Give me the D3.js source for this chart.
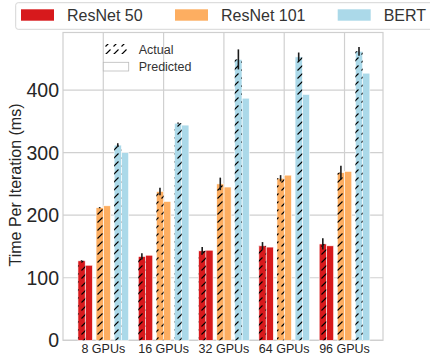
<!DOCTYPE html>
<html>
<head>
<meta charset="utf-8">
<script src="https://cdn.jsdelivr.net/npm/d3@7"></script>
<style>
  body { margin: 0; background: #fff; }
  svg { display: block; font-family: "Liberation Sans", Arial, sans-serif; }
</style>
</head>
<body>
<svg id="chart" width="430" height="358"></svg>
<script>
const gpus = ["8 GPUs", "16 GPUs", "32 GPUs", "64 GPUs", "96 GPUs"];
const models = ["ResNet 50", "ResNet 101", "BERT"];
const colors = ["#d7191c", "#fdae61", "#abd9e9"];

const resnet50Actual = [127, 134, 143, 151, 154];
const resnet50Err = [1, 5, 6, 6, 9];
const resnet50Pred = [120, 136, 144, 149, 151];
const resnet101Actual = [212, 238, 250, 259, 268];
const resnet101Err = [1, 6, 10, 5, 11];
const resnet101Pred = [215, 222, 245, 264, 270];
const bertActual = [312, 347, 449, 453, 462];
const bertErr = [3, 1, 16, 7, 7];
const bertPred = [300, 344, 387, 393, 427];

const yTicks = [0, 100, 200, 300, 400];

const actual = [resnet50Actual, resnet101Actual, bertActual];
const errs = [resnet50Err, resnet101Err, bertErr];
const pred = [resnet50Pred, resnet101Pred, bertPred];
const offsets = [-0.3, 0, 0.3];
const barW = 0.12;

const svg = d3.select("#chart");
const mLeft = 63, mRight = 383, mTop = 32.5, mBottom = 340.3;

const x = d3.scaleLinear().domain([-0.668, 4.638]).range([mLeft, mRight]);
const y = d3.scaleLinear().domain([0, 492]).range([mBottom, mTop]);

const defs = svg.append("defs");
const pat = defs.append("pattern")
  .attr("id", "hatch")
  .attr("patternUnits", "userSpaceOnUse")
  .attr("width", 8).attr("height", 8);
pat.append("path")
  .attr("d", "M1.5,6.5 L6.5,1.5")
  .attr("stroke", "#000")
  .attr("stroke-width", 1.1)
  .attr("fill", "none");

// grid
const grid = svg.append("g");
grid.selectAll(".hg")
  .data(yTicks)
  .enter()
  .append("line")
  .attr("x1", mLeft).attr("x2", mRight)
  .attr("y1", d => y(d)).attr("y2", d => y(d))
  .attr("stroke", "#d0d0d0")
  .attr("stroke-width", 1.2);
grid.selectAll(".vg")
  .data(gpus)
  .enter()
  .append("line")
  .attr("x1", (d, i) => x(i)).attr("x2", (d, i) => x(i))
  .attr("y1", mTop).attr("y2", mBottom)
  .attr("stroke", "#d0d0d0")
  .attr("stroke-width", 1.2);

// frame
svg.append("rect")
  .attr("x", mLeft).attr("y", mTop)
  .attr("width", mRight - mLeft).attr("height", mBottom - mTop)
  .attr("fill", "none")
  .attr("stroke", "#cfcfcf")
  .attr("stroke-width", 1.2);

// bars
models.forEach(function(m, k) {
  const g = svg.append("g");
  const c = colors[k];
  g.selectAll(".pred")
    .data(pred[k])
    .enter()
    .append("rect")
    .attr("x", (d, i) => x(i + offsets[k]))
    .attr("width", x(barW) - x(0))
    .attr("y", d => y(d))
    .attr("height", d => y(0) - y(d))
    .attr("fill", c)
    .attr("stroke", "#fff")
    .attr("stroke-width", 0.6);
  g.selectAll(".act")
    .data(actual[k])
    .enter()
    .append("rect")
    .attr("x", (d, i) => x(i + offsets[k] - barW))
    .attr("width", x(barW) - x(0))
    .attr("y", d => y(d))
    .attr("height", d => y(0) - y(d))
    .attr("fill", c)
    .attr("stroke", "#fff")
    .attr("stroke-width", 0.6);
  g.selectAll(".hatch")
    .data(actual[k])
    .enter()
    .append("rect")
    .attr("x", (d, i) => x(i + offsets[k] - barW))
    .attr("width", x(barW) - x(0))
    .attr("y", d => y(d))
    .attr("height", d => y(0) - y(d))
    .attr("fill", "url(#hatch)");
  g.selectAll(".err")
    .data(actual[k])
    .enter()
    .append("line")
    .attr("x1", (d, i) => x(i + offsets[k] - barW / 2))
    .attr("x2", (d, i) => x(i + offsets[k] - barW / 2))
    .attr("y1", (d, i) => y(d - errs[k][i]))
    .attr("y2", (d, i) => y(d + errs[k][i]))
    .attr("stroke", "#1a1a1a")
    .attr("stroke-width", 1.6);
});

// axes labels
svg.append("g").selectAll("text")
  .data(yTicks)
  .enter()
  .append("text")
  .attr("x", mLeft - 4)
  .attr("y", d => y(d))
  .attr("dy", "0.36em")
  .attr("text-anchor", "end")
  .attr("font-size", 19.5)
  .attr("fill", "#262626")
  .text(d => d);

svg.append("g").selectAll("text")
  .data(gpus)
  .enter()
  .append("text")
  .attr("x", (d, i) => x(i))
  .attr("y", 353)
  .attr("text-anchor", "middle")
  .attr("font-size", 12.5)
  .attr("fill", "#262626")
  .text(d => d);

svg.append("text")
  .attr("transform", "translate(21,185) rotate(-90)")
  .attr("text-anchor", "middle")
  .attr("font-size", 16)
  .attr("fill", "#262626")
  .text("Time Per Iteration (ms)");

// model legend
const leg = svg.append("g");
leg.append("rect")
  .attr("x", 15.7).attr("y", 2.7)
  .attr("width", 440).attr("height", 26.6)
  .attr("rx", 2.5)
  .attr("fill", "#fff")
  .attr("stroke", "#d6d6d6")
  .attr("stroke-width", 1);
const legX = [21, 175, 337.7];
models.forEach(function(m, k) {
  leg.append("rect")
    .attr("x", legX[k]).attr("y", 9.3)
    .attr("width", 33).attr("height", 11.4)
    .attr("fill", colors[k]);
  leg.append("text")
    .attr("x", legX[k] + 46).attr("y", 20.5)
    .attr("font-size", 16)
    .attr("fill", "#333")
    .text(m);
});

// hatch legend
const leg2 = svg.append("g");
leg2.append("rect")
  .attr("x", 103.3).attr("y", 44)
  .attr("width", 25.4).attr("height", 10)
  .attr("fill", "url(#hatch)");
leg2.append("rect")
  .attr("x", 103.3).attr("y", 62.3)
  .attr("width", 25.4).attr("height", 8.7)
  .attr("fill", "#fff")
  .attr("stroke", "#bbb")
  .attr("stroke-width", 0.8);
leg2.append("text")
  .attr("x", 138.7).attr("y", 53.5)
  .attr("font-size", 12.5)
  .attr("fill", "#333")
  .text("Actual");
leg2.append("text")
  .attr("x", 138.7).attr("y", 71.3)
  .attr("font-size", 12.5)
  .attr("fill", "#333")
  .text("Predicted");
</script>
</body>
</html>
